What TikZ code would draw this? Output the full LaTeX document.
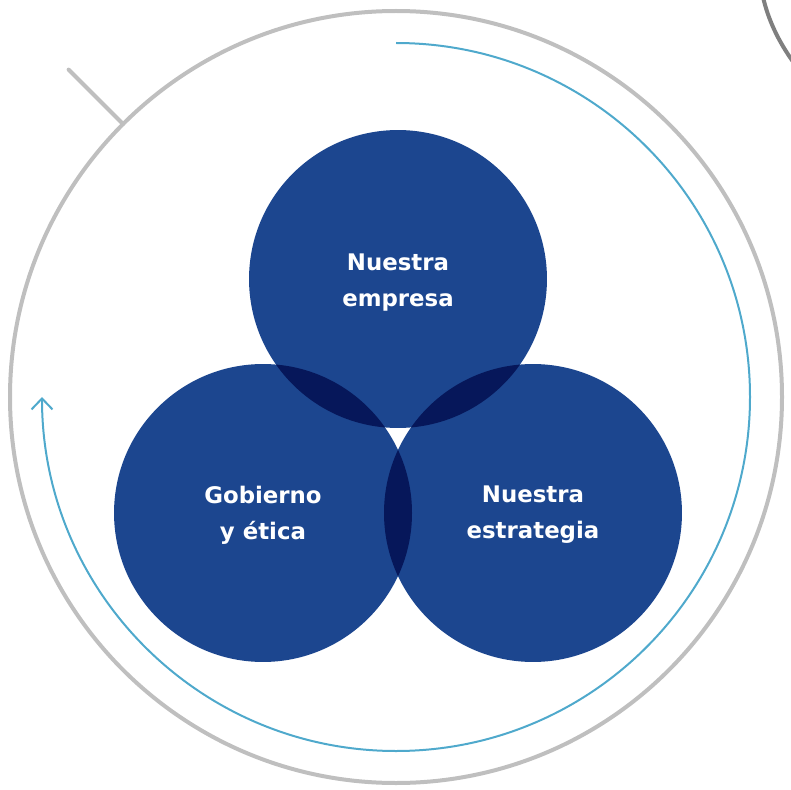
\documentclass[tikz,border=0pt]{standalone}
\usepackage{fontspec}
\setmainfont{DejaVu Sans}
\usepackage{xcolor}
\usepackage{tikz}
\usetikzlibrary{arrows.meta,positioning}

\definecolor{circblue}{HTML}{1C468F}
\definecolor{lensblue}{HTML}{06175A}
\definecolor{ringgray}{HTML}{BFBFBF}
\definecolor{arcblue}{HTML}{4FA9CC}
\definecolor{darkgray}{HTML}{7F7F7F}

\begin{document}
\begin{tikzpicture}[
    x=0.02cm, y=0.02cm,
    pillar/.style={circle, fill=circblue, minimum size=5.96cm, inner sep=0pt, align=center,
        text=white, font=\fontsize{13}{20.5}\selectfont\bfseries},
    ring/.style={draw=ringgray, line width=0.08cm},
    cycle/.style={draw=arcblue, line width=0.04cm, -{Straight Barb[length=0.22cm, width=0.42cm]}}
]
    \useasboundingbox (0,0) rectangle (791,789);
    \coordinate (c) at (396,392);

    % Outer ring
    \draw[ring] (c) circle [radius=386];
    \draw[ring, line cap=round] (c) ++(135:386) -- ++(135:77);
    \draw[draw=darkgray, line width=0.08cm] (763,792) .. controls (768,770) and (778,748) .. (794,726);

    % Cycle arrow
    \draw[cycle] (c) ++(90:354) arc [start angle=90, end angle=-180, radius=354];

    % Pillars
    \node[pillar] (empresa) at (398,510) {};
    \node[pillar] (gobierno) at (263,276) {};
    \node[pillar] (estrategia) at (533,276) {};

    % Overlaps
    \begin{scope}
        \clip (empresa.center) circle [radius=149];
        \fill[lensblue] (gobierno.center) circle [radius=149];
        \fill[lensblue] (estrategia.center) circle [radius=149];
    \end{scope}
    \begin{scope}
        \clip (gobierno.center) circle [radius=149];
        \fill[lensblue] (estrategia.center) circle [radius=149];
    \end{scope}

    % Labels
    \node[pillar, fill=none, yshift=-0.08cm] at (empresa.center) {Nuestra\\empresa};
    \node[pillar, fill=none, yshift=-0.04cm] at (gobierno.center) {Gobierno\\y ética};
    \node[pillar, fill=none, yshift=-0.04cm] at (estrategia.center) {Nuestra\\estrategia};
\end{tikzpicture}
\end{document}
